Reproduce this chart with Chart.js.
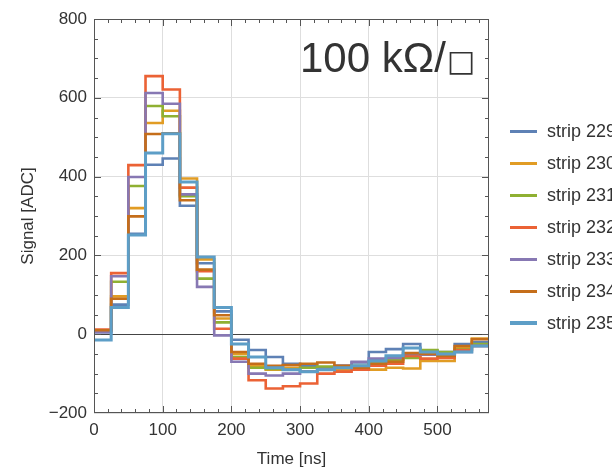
<!DOCTYPE html>
<html>
<head>
<meta charset="utf-8">
<script src="https://cdn.jsdelivr.net/npm/chart.js@4.4.1/dist/chart.umd.min.js"></script>
<style>
  html, body { margin: 0; padding: 0; overflow: hidden; background: #fff; }
  #wrap { position: relative; width: 612px; height: 471px; }
  #legend { position: absolute; left: 510px; top: 118px; font: 18px "Liberation Sans", Arial, sans-serif; color: #333; white-space: nowrap; }
  .item { position: relative; height: 32px; line-height: 26px; }
  .item i { position: absolute; left: 0; top: 12px; width: 27px; height: 3px; }
  .item span { position: absolute; left: 37px; top: 0; }
</style>
</head>
<body>
<div id="wrap">
  <canvas id="chart" width="612" height="471"></canvas>
  <div id="legend"></div>
</div>
<script>
// bin start times (ns), last entry closes the final bin
const timeNs = [0, 25, 50, 75, 100, 125, 150, 175, 200, 225, 250, 275, 300,
  325, 350, 375, 400, 425, 450, 475, 500, 525, 550, 575];

const stripNames = ["strip 229", "strip 230", "strip 231", "strip 232",
  "strip 233", "strip 234", "strip 235"];
const stripColors = ["#5E81B5", "#E19C24", "#8FB032", "#EB6235",
  "#8778B3", "#C56E1A", "#5D9EC7"];

// ADC signal per 25 ns bin
const strip229 = [5, 75, 255, 430, 446, 326, 180, 58, -14, -40, -58, -75, -80, -85, -80, -72, -45, -38, -25, -42, -45, -25, -20];
const strip230 = [8, 96, 320, 536, 567, 395, 190, 40, -50, -80, -90, -85, -95, -90, -90, -88, -90, -85, -87, -68, -68, -35, -11];
const strip231 = [10, 133, 376, 579, 553, 350, 141, 30, -58, -85, -88, -90, -85, -82, -85, -80, -70, -65, -60, -40, -45, -39, -25];
const strip232 = [12, 155, 429, 655, 621, 372, 160, 14, -62, -117, -138, -132, -125, -100, -95, -90, -80, -75, -55, -62, -60, -40, -30];
const strip233 = [5, 147, 399, 612, 585, 355, 120, -3, -70, -100, -105, -100, -95, -90, -80, -70, -62, -60, -50, -52, -52, -45, -30];
const strip234 = [10, 90, 299, 508, 510, 340, 164, 48, -45, -75, -80, -78, -75, -72, -80, -85, -75, -70, -48, -50, -55, -30, -13];
const strip235 = [-15, 68, 252, 460, 509, 386, 196, 68, -25, -58, -85, -90, -95, -90, -85, -80, -68, -55, -35, -45, -50, -45, -30];

const series = [strip229, strip230, strip231, strip232, strip233, strip234, strip235];

const FONT = "'Liberation Sans', Arial, sans-serif";
const INK = "#333";

function stepPoints(vals) {
  // repeat the last value so the final bin gets its full width
  const pts = vals.map((v, i) => ({ x: timeNs[i], y: v }));
  pts.push({ x: timeNs[vals.length], y: vals[vals.length - 1] });
  return pts;
}

const datasets = series.map((vals, i) => ({
  label: stripNames[i],
  data: stepPoints(vals),
  borderColor: stripColors[i],
  borderWidth: i === 6 ? 3 : 2.6,
  stepped: true,
  pointRadius: 0,
  fill: false,
  order: 6 - i,
}));

// frame with inward ticks on all four sides, plus the sheet-resistance label
const framePlugin = {
  id: "frame",
  afterDatasetsDraw(chart) {
    const { ctx, chartArea: a, scales: { x, y } } = chart;
    ctx.save();
    ctx.strokeStyle = "#555";
    ctx.lineWidth = 1;
    ctx.beginPath();
    for (let t = 20; t < 575; t += 20) {
      const px = Math.round(x.getPixelForValue(t)) + 0.5;
      const len = t % 100 === 0 ? 7 : 4;
      ctx.moveTo(px, a.bottom); ctx.lineTo(px, a.bottom - len);
      ctx.moveTo(px, a.top); ctx.lineTo(px, a.top + len);
    }
    for (let v = -150; v < 800; v += 50) {
      const py = Math.round(y.getPixelForValue(v)) + 0.5;
      const len = v % 200 === 0 ? 7 : 4;
      ctx.moveTo(a.left, py); ctx.lineTo(a.left + len, py);
      ctx.moveTo(a.right, py); ctx.lineTo(a.right - len, py);
    }
    ctx.stroke();
    ctx.strokeRect(a.left + 0.5, a.top + 0.5, a.right - a.left - 1, a.bottom - a.top - 1);

    ctx.fillStyle = INK;
    ctx.textAlign = "left";
    ctx.textBaseline = "alphabetic";
    ctx.font = "42px " + FONT;
    const head = "100 kΩ/";
    ctx.fillText(head, 300, 72);
    const w = ctx.measureText(head).width;
    ctx.font = "30px 'DejaVu Sans', " + FONT;
    ctx.fillText("□", 300 + w + 1, 71);
    ctx.restore();
  },
};

const gridColor = (c) => {
  const v = c.tick.value;
  if (c.scale.axis === "y" && v === 0) return "#444";
  if (c.scale.axis === "x" && v % 100 !== 0) return "rgba(0,0,0,0)";
  return "#dedede";
};

new Chart(document.getElementById("chart"), {
  type: "line",
  data: { datasets },
  plugins: [framePlugin],
  options: {
    responsive: false,
    devicePixelRatio: 1,
    animation: false,
    layout: { padding: { left: 0, right: 123, top: 19, bottom: 0 } },
    plugins: { legend: { display: false }, tooltip: { enabled: false } },
    scales: {
      x: {
        type: "linear",
        min: 0,
        max: 575,
        afterFit: (s) => { s.height = 58; },
        grid: { color: gridColor, drawTicks: false },
        border: { display: false },
        ticks: {
          stepSize: 100,
          padding: 7,
          color: INK,
          font: { family: FONT, size: 17 },
          maxRotation: 0,
          callback: (v) => (v % 100 === 0 ? String(v) : ""),
        },
        title: { display: true, text: "Time [ns]", color: INK, font: { family: FONT, size: 17 }, padding: { top: 0, bottom: 1 } },
      },
      y: {
        min: -200,
        max: 800,
        afterFit: (s) => { s.width = 94; },
        grid: { color: gridColor, drawTicks: false },
        border: { display: false },
        ticks: {
          stepSize: 200,
          padding: 7,
          color: INK,
          font: { family: FONT, size: 17 },
          callback: (v) => String(v).replace("-", "\u2212"),
        },
        title: { display: true, text: "Signal [ADC]", color: INK, font: { family: FONT, size: 17 }, padding: { top: 18, bottom: 0 } },
      },
    },
  },
});

// legend built from the same names and colours
const legendEl = document.getElementById("legend");
stripNames.forEach((name, i) => {
  const row = document.createElement("div");
  row.className = "item";
  row.innerHTML = `<i style="background:${stripColors[i]};${i === 6 ? "height:4px;top:11px;" : ""}"></i><span>${name}</span>`;
  legendEl.appendChild(row);
});
</script>
</body>
</html>
